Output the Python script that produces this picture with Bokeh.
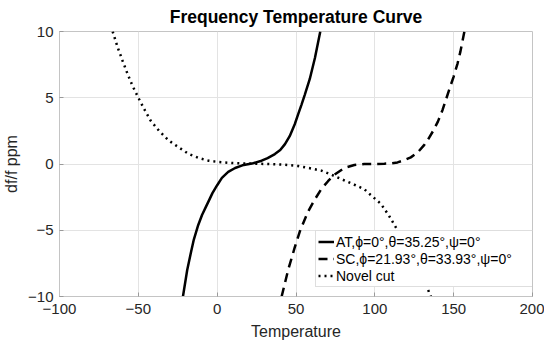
from bokeh.plotting import figure
from bokeh.models import Legend, LegendItem, Range1d, FixedTicker
from bokeh.embed import file_html
from bokeh.resources import INLINE

# ---- data ----
at_t = [-21.7, -19, -16.5, -14.8, -12, -9.6, -7, -5.4, -3, 0, 3, 7, 11.4, 16, 22, 28.2, 32, 36.6, 40, 43, 46, 49.2, 51.5, 53.4, 55.5, 58.7, 62, 65.4]
at_y = [-10, -8.0, -6.6, -5.7, -4.6, -3.85, -3.2, -2.8, -2.2, -1.6, -1.05, -0.6, -0.3, -0.1, 0.03, 0.25, 0.45, 0.75, 1.05, 1.5, 2.1, 3.0, 3.8, 4.45, 5.2, 6.4, 8.0, 10]

sc_t = [40.9, 45, 49.2, 52.4, 57.6, 61.8, 66, 70.3, 74.4, 80.7, 87, 93.3, 100, 106, 110.2, 114.4, 118.5, 122.8, 127, 131.1, 134, 137, 140, 143, 145.5, 148, 150, 152.5, 154.3, 156.8]
sc_y = [-10, -8.0, -6.3, -5.1, -3.6, -2.7, -1.9, -1.3, -0.8, -0.3, -0.08, 0, 0, 0.02, 0.05, 0.12, 0.28, 0.5, 0.85, 1.4, 1.9, 2.5, 3.2, 4.1, 5.0, 5.9, 6.6, 7.6, 8.5, 10]

nc_t = [-66.3, -63.1, -60, -56.8, -53.7, -49.9, -46.3, -42.2, -36.9, -30.6, -24.3, -18, -11.7, -5.4, 0, 9.3, 20, 32.4, 42, 51.4, 60, 66, 72.3, 78, 84.9, 93.3, 97.5, 103.8, 109, 114.4, 120, 125, 130, 135.5]
nc_y = [10, 8.8, 7.79, 6.79, 5.9, 4.98, 4.15, 3.27, 2.51, 1.76, 1.25, 0.75, 0.45, 0.25, 0.16, 0.07, 0.03, 0, -0.05, -0.15, -0.35, -0.5, -0.8, -1.1, -1.45, -1.9, -2.35, -3.0, -3.9, -5.0, -6.2, -7.3, -8.4, -10]

x_ticks = [-100, -50, 0, 50, 100, 150, 200]
y_ticks = [-10, -5, 0, 5, 10]

labels = ["AT,\u03d5=0\u00b0,\u03b8=35.25\u00b0,\u03c8=0\u00b0",
          "SC,\u03d5=21.93\u00b0,\u03b8=33.93\u00b0,\u03c8=0\u00b0",
          "Novel cut"]

FONT = "Liberation Sans"
AX = "#c4c4c4"

p = figure(width=544, height=345, output_backend="svg", toolbar_location=None,
           x_range=Range1d(-100, 200), y_range=Range1d(-10, 10),
           min_border_left=56, min_border_right=12, min_border_top=31, min_border_bottom=49,
           background_fill_color="white", border_fill_color="white")

p.title.text = "Frequency Temperature Curve"
p.title.align = "center"
p.title.text_font = FONT
p.title.text_font_size = "17.5px"
p.title.text_font_style = "bold"
p.title.text_color = "black"
p.title.standoff = 9

p.outline_line_color = AX
for ax in (p.xaxis[0], p.yaxis[0]):
    ax.axis_line_color = AX
    ax.major_tick_line_color = "#9a9a9a"
    ax.major_tick_in = 4
    ax.major_tick_out = 0
    ax.minor_tick_line_color = None
    ax.major_label_text_font = FONT
    ax.major_label_text_font_size = "15px"
    ax.major_label_text_color = "#262626"
    ax.axis_label_text_font = FONT
    ax.axis_label_text_font_size = "16px"
    ax.axis_label_text_font_style = "normal"
    ax.axis_label_text_color = "#262626"

p.xaxis.ticker = FixedTicker(ticks=x_ticks)
p.yaxis.ticker = FixedTicker(ticks=y_ticks)
p.xaxis.axis_label = "Temperature"
p.yaxis.axis_label = "df/f ppm"
p.xaxis.major_label_standoff = 7
p.xaxis.axis_label_standoff = 6
p.yaxis.major_label_standoff = 6
p.yaxis.axis_label_standoff = 5

p.xgrid.grid_line_color = "#e3e3e3"
p.ygrid.grid_line_color = "#e3e3e3"

r_at = p.line(at_t, at_y, line_color="black", line_width=2.5)
r_sc = p.line(sc_t, sc_y, line_color="black", line_width=2.5, line_dash="9 6")
r_nc = p.line(nc_t, nc_y, line_color="black", line_width=2.5, line_dash="2 4")

legend = Legend(items=[LegendItem(label=labels[0], renderers=[r_at]),
                       LegendItem(label=labels[1], renderers=[r_sc]),
                       LegendItem(label=labels[2], renderers=[r_nc])],
                location=(256, 9))
legend.label_text_font = FONT
legend.label_text_font_size = "14px"
legend.label_text_color = "black"
legend.padding = 2
legend.spacing = 0
legend.margin = 0
legend.glyph_width = 16
legend.glyph_height = 17
legend.label_height = 17
legend.label_standoff = 2
legend.label_width = 197
legend.border_line_color = "#bdbdbd"
legend.background_fill_color = "white"
legend.background_fill_alpha = 1.0
p.add_layout(legend)

open("out.html", "w").write(file_html(p, INLINE))
